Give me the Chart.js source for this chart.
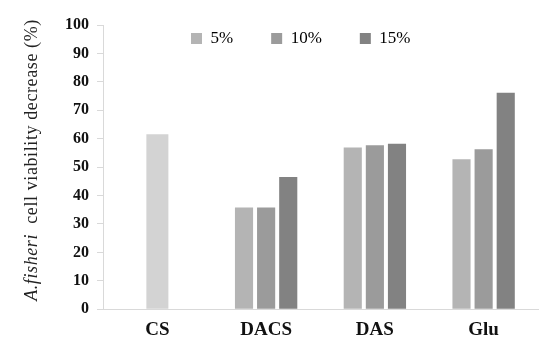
<!DOCTYPE html>
<html>
<head>
<meta charset="utf-8">
<script src="https://cdn.jsdelivr.net/npm/chart.js@4/dist/chart.umd.min.js"></script>
<style>
  html, body { margin: 0; padding: 0; background: #fff; }
  #wrap { width: 550px; height: 346px; }
</style>
</head>
<body>
<div id="wrap"><canvas id="chart"></canvas></div>
<script>
// -------------------------------------------- data
const categories = ['CS', 'DACS', 'DAS', 'Glu'];
const series = ['5%', '10%', '15%'];
const values5 = [61.6, 35.8, 56.9, 52.8];
const values10 = [null, 35.8, 57.7, 56.3];
const values15 = [null, 46.5, 58.2, 76.2];
const yTicks = [0, 10, 20, 30, 40, 50, 60, 70, 80, 90, 100];

const serif = "'Liberation Serif', 'DejaVu Serif', serif";

// y title: italic species name + normal text
const yTitle = {
    id: 'yTitle',
    afterDraw(chart) {
        const c = chart.ctx;
        const italicPart = 'A.fisheri';
        const restPart = '  cell viability decrease (%)';
        c.save();
        c.translate(32, 160);
        c.rotate(-Math.PI / 2);
        c.fillStyle = '#222';
        c.textBaseline = 'middle';
        c.letterSpacing = '0.6px';
        c.font = 'italic 18px ' + serif;
        const w1 = c.measureText(italicPart).width;
        c.font = '18px ' + serif;
        const w2 = c.measureText(restPart).width;
        let x = -(w1 + w2) / 2;
        c.font = 'italic 18px ' + serif;
        c.fillText(italicPart, x, 0);
        c.font = '18px ' + serif;
        c.fillText(restPart, x + w1, 0);
        c.restore();
    }
};

// legend sits inside the plot, in one row
const legendInside = {
    id: 'legendInside',
    beforeLayout(chart) {
        if (chart.legend) chart.legend.isHorizontal = () => true;
    },
    afterLayout(chart) {
        const lg = chart.legend;
        if (lg) {
            const pad = lg.options.labels.padding;
            lg.left = 191 - pad;
            lg.right = lg.left + 400;
            lg.top = 33 - 3 - pad;
        }
    }
};

const ctx = document.querySelector('#chart').getContext('2d');
const chart = new Chart(ctx, {
    type: 'bar',
    data: {
        labels: categories,
        datasets: [{
            label: series[0],
            data: values5,
            backgroundColor: ['#d3d3d3', '#b4b4b4', '#b4b4b4', '#b4b4b4'],
        }, {
            label: series[1],
            data: values10,
            backgroundColor: '#9b9b9b',
        }, {
            label: series[2],
            data: values15,
            backgroundColor: '#828282',
        }]
    },
    options: {
        responsive: true,
        maintainAspectRatio: false,
        animation: false,
        skipNull: true,
        maxBarThickness: 22,
        categoryPercentage: 0.61,
        barPercentage: 0.82,
        layout: {
            padding: { top: 25, right: 12, left: 57, bottom: -4 }
        },
        plugins: {
            legend: {
                position: 'chartArea',
                align: 'start',
                labels: {
                    boxWidth: 11,
                    boxHeight: 11,
                    padding: 38,
                    color: '#222',
                    font: { family: serif, size: 17 },
                    generateLabels: (chart) => chart.data.datasets.map((ds, i) => ({
                        text: ds.label,
                        fillStyle: i === 0 ? '#b4b4b4' : ds.backgroundColor,
                        strokeStyle: 'rgba(0,0,0,0)',
                        lineWidth: 0,
                        datasetIndex: i,
                    })),
                }
            },
            tooltip: { enabled: false },
        },
        scales: {
            x: {
                grid: { display: false, drawTicks: false },
                border: { color: '#d9d9d9', width: 1 },
                ticks: {
                    color: '#111',
                    padding: 9,
                    font: { family: serif, size: 19, weight: 'bold' }
                }
            },
            y: {
                min: 0,
                max: 100,
                afterBuildTicks: (axis) => {
                    axis.ticks = yTicks.map(v => ({ value: v }));
                },
                grid: {
                    drawOnChartArea: false,
                    drawTicks: true,
                    tickLength: 6,
                    color: '#d9d9d9'
                },
                border: { color: '#d9d9d9', width: 1 },
                ticks: {
                    color: '#111',
                    padding: 8,
                    font: { family: serif, size: 16, weight: 'bold' }
                }
            }
        }
    },
    plugins: [yTitle, legendInside]
});
</script>
</body>
</html>
